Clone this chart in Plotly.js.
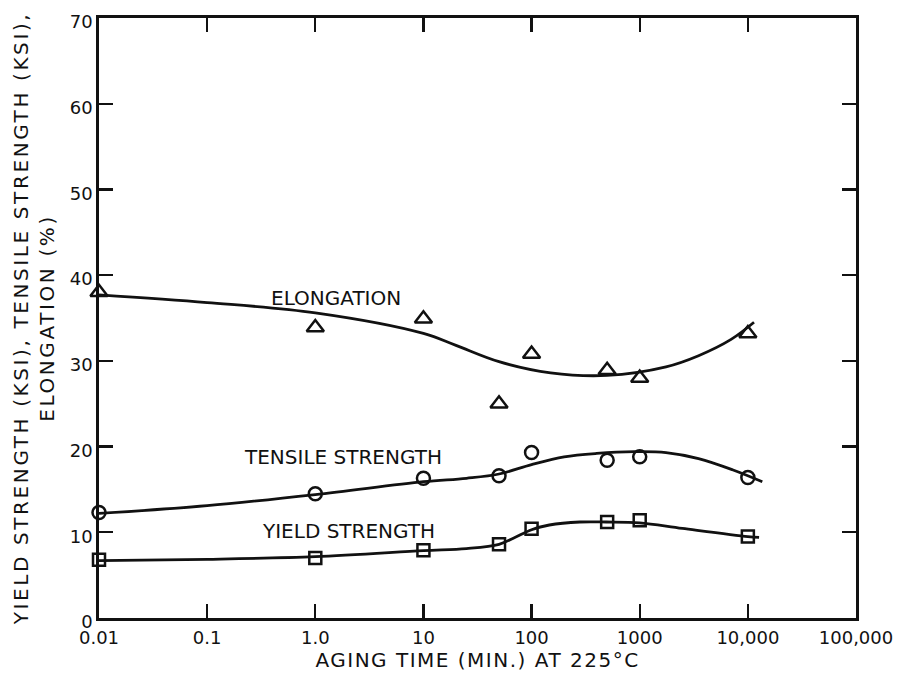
<!DOCTYPE html>
<html>
<head>
<meta charset="utf-8">
<script src="https://cdn.plot.ly/plotly-3.0.1.min.js"></script>
<style>
html,body{margin:0;padding:0;background:#fff;}
#chart{width:900px;height:677px;}
</style>
</head>
<body>
<div id="chart"></div>
<script>
// Measured points
var agingTime = [0.01, 1, 10, 50, 100, 500, 1000, 10000];
var elongation = [38.0, 33.9, 34.9, 25.0, 30.8, 28.9, 28.0, 33.2];
var tensileStrength = [12.3, 14.5, 16.3, 16.6, 19.3, 18.4, 18.8, 16.4];
var yieldStrength = [6.8, 7.0, 7.9, 8.6, 10.4, 11.2, 11.4, 9.5];

// Hand-drawn trend curves
var elongCurveX = [0.01, 0.1, 1, 10, 20, 50, 150, 500, 1750, 3500, 7000, 11400];
var elongCurveY = [37.7, 36.8, 35.6, 33.2, 31.8, 29.9, 28.6, 28.3, 29.3, 30.6, 32.5, 34.5];
var tensileCurveX = [0.01, 0.1, 1, 10, 25, 50, 100, 200, 400, 900, 1750, 3500, 7200, 13600];
var tensileCurveY = [12.2, 13.1, 14.4, 15.9, 16.3, 16.8, 17.9, 18.8, 19.2, 19.4, 19.3, 18.6, 17.3, 15.9];
var yieldCurveX = [0.01, 0.1, 1, 10, 25, 50, 70, 100, 146, 280, 490, 1000, 2480, 10000, 12700];
var yieldCurveY = [6.7, 6.85, 7.15, 7.85, 8.1, 8.6, 9.4, 10.3, 10.85, 11.2, 11.2, 11.1, 10.45, 9.5, 9.4];

// Axis ticks
var xTickVals = [0.01, 0.1, 1, 10, 100, 1000, 10000, 100000];
var xTickText = ["0.01", "0.1", "1.0", "10", "100", "1000", "10,000", "100,000"];
var yTickVals = [0, 10, 20, 30, 40, 50, 60, 70];

var curveNames = ["ELONGATION", "TENSILE STRENGTH", "YIELD STRENGTH"];

var FONT = "DejaVu Sans, sans-serif";
var INK = "#111";

function curve(x, y) {
  return {x: x, y: y, type: "scatter", mode: "lines",
    line: {color: INK, width: 2.8, shape: "spline", smoothing: 1},
    hoverinfo: "skip", showlegend: false, cliponaxis: false};
}
function pts(y, sym, size) {
  return {x: agingTime, y: y, type: "scatter", mode: "markers",
    marker: {symbol: sym, size: size, color: INK, line: {color: INK, width: 2.5}},
    showlegend: false, cliponaxis: false};
}

var data = [
  curve(elongCurveX, elongCurveY),
  curve(tensileCurveX, tensileCurveY),
  curve(yieldCurveX, yieldCurveY),
  pts(elongation, "triangle-up-open", 15),
  pts(tensileStrength, "circle-open", 13),
  pts(yieldStrength, "square-open", 12)
];

var layout = {
  width: 900, height: 677,
  margin: {l: 99, r: 44, t: 18, b: 59},
  paper_bgcolor: "#fff", plot_bgcolor: "#fff",
  font: {family: FONT, color: INK, size: 18},
  xaxis: {
    type: "log", range: [-2, 5],
    tickvals: xTickVals, ticktext: xTickText,
    ticks: "inside", ticklen: 14, tickwidth: 2.2, tickcolor: INK,
    showline: true, linewidth: 2.8, linecolor: INK, mirror: "ticks",
    showgrid: false, zeroline: false, ticklabelstandoff: 2,
    tickfont: {family: FONT, size: 18, color: INK},
    title: {text: "AGING TIME (MIN.) AT 225°C", standoff: 6,
      font: {family: FONT, size: 20, color: INK}},
    automargin: false
  },
  yaxis: {
    range: [0, 70], tickvals: yTickVals,
    ticks: "inside", ticklen: 14, tickwidth: 2.2, tickcolor: INK,
    showline: true, linewidth: 2.8, linecolor: INK, mirror: "ticks",
    showgrid: false, zeroline: false, ticklabelshift: 4,
    tickfont: {family: FONT, size: 18, color: INK},
    title: {text: "YIELD STRENGTH (KSI), TENSILE STRENGTH (KSI),<br>ELONGATION (%)", standoff: 10,
      font: {family: FONT, size: 20, color: INK}},
    automargin: false
  },
  annotations: [
    {text: curveNames[0], xref: "paper", yref: "paper", x: 0.3128, y: 0.5337,
      showarrow: false, xanchor: "center", yanchor: "middle", font: {family: FONT, size: 20, color: INK}},
    {text: curveNames[1], xref: "paper", yref: "paper", x: 0.3223, y: 0.268,
      showarrow: false, xanchor: "center", yanchor: "middle", font: {family: FONT, size: 20, color: INK}},
    {text: curveNames[2], xref: "paper", yref: "paper", x: 0.329, y: 0.1447,
      showarrow: false, xanchor: "center", yanchor: "middle", font: {family: FONT, size: 20, color: INK}}
  ]
};

Plotly.newPlot("chart", data, layout, {displayModeBar: false, staticPlot: true}).then(function () {
  var yt = document.querySelector(".ytitle");
  if (yt) yt.style.letterSpacing = "2.6px";
  var xt = document.querySelector(".xtitle");
  if (xt) xt.style.letterSpacing = "1.5px";
});
</script>
</body>
</html>
